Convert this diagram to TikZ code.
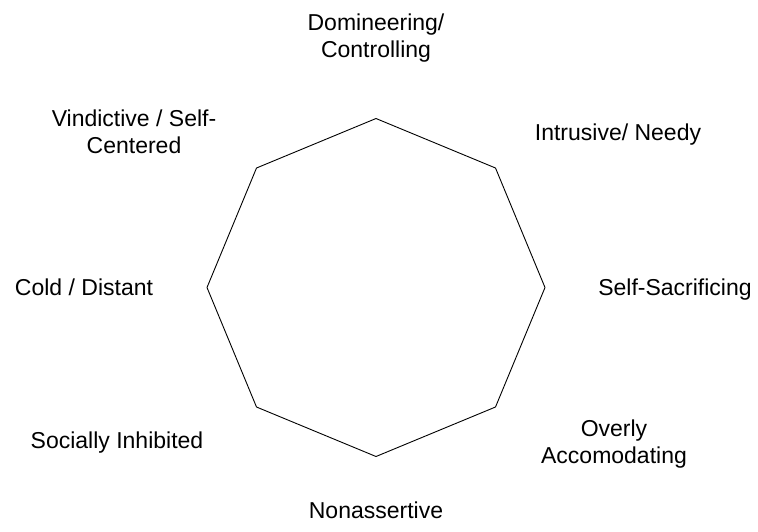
\documentclass[tikz,border=0pt]{standalone}
\usepackage{fontspec}
\setmainfont{Liberation Sans}
\begin{document}
\begin{tikzpicture}[x=1pt,y=-1pt,
  lbl/.style={align=center,font=\fontsize{23}{27}\selectfont,inner sep=0pt},
  edge/.style={draw=black,line width=0.9pt,line join=miter}]
\useasboundingbox (0,0) rectangle (758,531);
% octagon vertices
\coordinate (t) at (376,118.5);
\coordinate (tr) at (495.5,168);
\coordinate (r) at (545,287.5);
\coordinate (br) at (495.5,407);
\coordinate (b) at (376,456.5);
\coordinate (bl) at (256.5,407);
\coordinate (l) at (207,287.5);
\coordinate (tl) at (256.5,168);
\draw[edge] (t) -- (tr) -- (r) -- (br) -- (b) -- (bl) -- (l) -- (tl) -- cycle;
% labels
\node[lbl] (dom) at (376,38.5) {Domineering/\\Controlling};
\node[lbl] (intr) at (618,135) {Intrusive/ Needy};
\node[lbl] (self) at (675,290) {Self-Sacrificing};
\node[lbl] (over) at (614,444) {Overly\\Accomodating};
\node[lbl] (non) at (376,510.5) {Nonassertive};
\node[lbl] (soc) at (117,443) {Socially Inhibited};
\node[lbl] (cold) at (84,287) {Cold / Distant};
\node[lbl] (vind) at (134,132) {Vindictive / Self-\\Centered};
\end{tikzpicture}
\end{document}
